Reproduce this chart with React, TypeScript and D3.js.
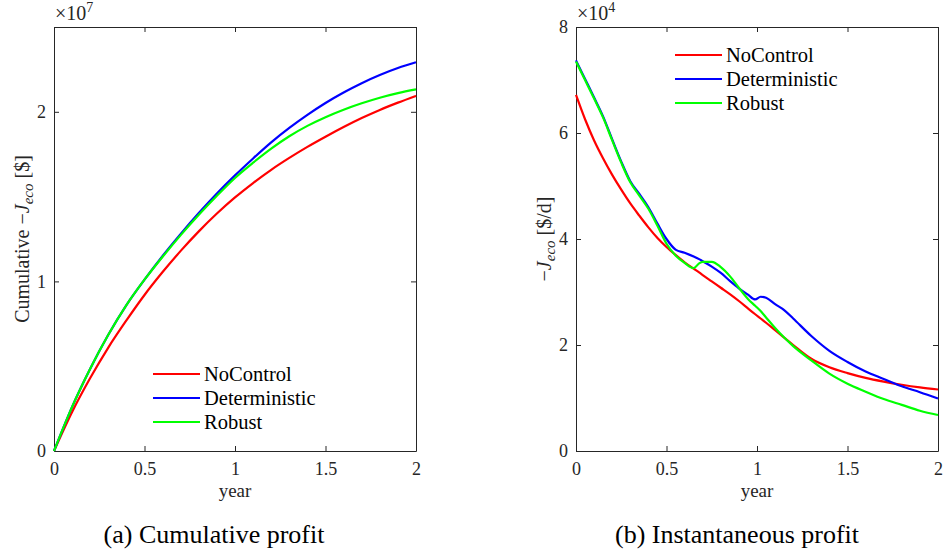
import React, { useEffect, useRef } from 'react';
import * as d3 from 'd3';

// sample times [year], cumulative panel
const cumYears = [0, 0.1, 0.2, 0.3, 0.4, 0.5, 0.6, 0.7, 0.8, 0.9, 1.0, 1.1, 1.2, 1.3, 1.4, 1.5, 1.6, 1.7, 1.8, 1.9, 2.0];
// cumulative -J_eco, x1e7 $
const cumNoControl = [0, 0.23, 0.43, 0.61, 0.77, 0.92, 1.055, 1.18, 1.295, 1.4, 1.495, 1.58, 1.658, 1.728, 1.793, 1.853, 1.91, 1.963, 2.011, 2.054, 2.094];
const cumDeterministic = [0, 0.26, 0.485, 0.685, 0.86, 1.01, 1.15, 1.28, 1.403, 1.518, 1.625, 1.725, 1.82, 1.905, 1.982, 2.052, 2.114, 2.169, 2.217, 2.258, 2.292];
const cumRobust = [0, 0.26, 0.485, 0.685, 0.86, 1.01, 1.145, 1.273, 1.393, 1.505, 1.61, 1.7, 1.783, 1.856, 1.917, 1.968, 2.012, 2.05, 2.083, 2.11, 2.132];

// sample times [year], instantaneous panel
const instYears = [0, 0.05, 0.1, 0.15, 0.2, 0.25, 0.3, 0.35, 0.4, 0.45, 0.5, 0.55, 0.6, 0.65, 0.68, 0.7, 0.75, 0.8, 0.85, 0.9, 0.95, 0.99, 1.02, 1.05, 1.1, 1.15, 1.2, 1.3, 1.4, 1.5, 1.6, 1.7, 1.8, 1.9, 2.0];
// -J_eco, x1e4 $/d
const instNoControl = [6.72, 6.26, 5.86, 5.52, 5.21, 4.93, 4.67, 4.44, 4.22, 4.02, 3.85, 3.7, 3.56, 3.44, 3.37, 3.32, 3.2, 3.08, 2.96, 2.83, 2.69, 2.58, 2.5, 2.42, 2.28, 2.14, 2.0, 1.74, 1.58, 1.47, 1.38, 1.31, 1.25, 1.2, 1.16];
const instDeterministic = [7.37, 7.02, 6.67, 6.31, 5.88, 5.46, 5.09, 4.85, 4.6, 4.29, 4.0, 3.8, 3.74, 3.67, 3.62, 3.58, 3.48, 3.36, 3.21, 3.07, 2.95, 2.86, 2.91, 2.89, 2.77, 2.66, 2.5, 2.17, 1.89, 1.68, 1.5, 1.36, 1.22, 1.11, 0.99];
const instRobust = [7.35, 7.0, 6.65, 6.29, 5.86, 5.44, 5.07, 4.82, 4.57, 4.25, 3.91, 3.69, 3.55, 3.45, 3.54, 3.57, 3.57, 3.47, 3.3, 3.08, 2.87, 2.74, 2.64, 2.52, 2.32, 2.14, 1.98, 1.71, 1.46, 1.27, 1.12, 0.98, 0.87, 0.76, 0.68];

const seriesNames = ['NoControl', 'Deterministic', 'Robust'];
const seriesColors = ['#ff0000', '#0000ff', '#00ff00'];
const yearTicks = [0, 0.5, 1, 1.5, 2];
const cumTicks = [0, 1, 2];
const instTicks = [0, 2, 4, 6, 8];

const FONT = '"Liberation Serif", "Times New Roman", serif';
const AXIS = '#262626';

function drawPanel(svg, p) {
  const x = d3.scaleLinear().domain([0, 2]).range([p.left, p.right]);
  const y = d3.scaleLinear().domain([0, p.yMax]).range([p.bottom, p.top]);
  const g = svg.append('g');

  const style = (sel) => {
    sel.attr('font-family', FONT).attr('font-size', 18);
    sel.selectAll('path, line').attr('stroke', AXIS).attr('stroke-width', 1);
    sel.selectAll('text').attr('fill', AXIS);
  };

  g.append('g')
    .attr('transform', `translate(0, ${p.bottom})`)
    .call(d3.axisBottom(x).tickValues(yearTicks).tickSizeInner(-5).tickSizeOuter(0).tickPadding(11).tickFormat(d3.format('')))
    .call(style);
  g.append('g')
    .attr('transform', `translate(0, ${p.top})`)
    .call(d3.axisTop(x).tickValues(yearTicks).tickSizeInner(-5).tickSizeOuter(0).tickFormat(''))
    .call(style);
  g.append('g')
    .attr('transform', `translate(${p.left}, 0)`)
    .call(d3.axisLeft(y).tickValues(p.yTicks).tickSizeInner(-5).tickSizeOuter(0).tickPadding(8).tickFormat(d3.format('')))
    .call(style);
  g.append('g')
    .attr('transform', `translate(${p.right}, 0)`)
    .call(d3.axisRight(y).tickValues(p.yTicks).tickSizeInner(-5).tickSizeOuter(0).tickFormat(''))
    .call(style);

  const line = d3.line()
    .x((d) => x(d[0]))
    .y((d) => y(d[1]))
    .curve(d3.curveMonotoneX);

  p.series.forEach((vals, i) => {
    g.append('path')
      .datum(p.years.map((t, j) => [t, vals[j]]))
      .attr('fill', 'none')
      .attr('stroke', seriesColors[i])
      .attr('stroke-width', 2.2)
      .attr('stroke-linejoin', 'round')
      .attr('d', line);
  });

  // exponent
  const ex = g.append('text')
    .attr('x', p.left + 1)
    .attr('y', 20)
    .attr('font-family', FONT)
    .attr('font-size', 20)
    .attr('fill', AXIS);
  ex.append('tspan').text('×10');
  ex.append('tspan').attr('font-size', 14).attr('dy', -8).text(p.exponent);

  // legend
  const lg = g.append('g');
  seriesNames.forEach((name, i) => {
    const ly = p.legendY + i * 24;
    lg.append('line')
      .attr('x1', p.legendX).attr('x2', p.legendX + 47)
      .attr('y1', ly).attr('y2', ly)
      .attr('stroke', seriesColors[i])
      .attr('stroke-width', 2.2);
    lg.append('text')
      .attr('x', p.legendX + 51)
      .attr('y', ly + 6.5)
      .attr('font-family', FONT)
      .attr('font-size', 20.5)
      .attr('fill', '#000')
      .text(name);
  });

  // x label
  g.append('text')
    .attr('x', (p.left + p.right) / 2)
    .attr('y', 497)
    .attr('text-anchor', 'middle')
    .attr('font-family', FONT)
    .attr('font-size', 19)
    .attr('fill', AXIS)
    .text('year');

  // y label
  const yl = g.append('text')
    .attr('transform', `translate(${p.left - 25}, ${(p.top + p.bottom) / 2}) rotate(-90)`)
    .attr('text-anchor', 'middle')
    .attr('font-family', FONT)
    .attr('font-size', 20)
    .attr('fill', AXIS);
  yl.append('tspan').text(p.yPrefix + '−');
  yl.append('tspan').attr('font-style', 'italic').text('J');
  yl.append('tspan').attr('font-style', 'italic').attr('font-size', 15).attr('dy', 4).text('eco');
  yl.append('tspan').attr('dy', -4).text(' ' + p.yUnit);

  // caption
  g.append('text')
    .attr('x', p.captionX)
    .attr('y', 543)
    .attr('text-anchor', 'middle')
    .attr('font-family', FONT)
    .attr('font-size', 26)
    .attr('fill', '#000')
    .text(p.caption);
}

export default function App() {
  const ref = useRef(null);

  useEffect(() => {
    const svg = d3.select(ref.current);
    svg.selectAll('*').remove();

    drawPanel(svg, {
      left: 54, right: 416, top: 27, bottom: 451,
      yMax: 2.5, yTicks: cumTicks, exponent: '7',
      years: cumYears,
      series: [cumNoControl, cumDeterministic, cumRobust],
      legendX: 153, legendY: 374,
      yPrefix: 'Cumulative ', yUnit: '[$]',
      caption: '(a) Cumulative profit', captionX: 214,
    });

    drawPanel(svg, {
      left: 576, right: 938, top: 27, bottom: 451,
      yMax: 8, yTicks: instTicks, exponent: '4',
      years: instYears,
      series: [instNoControl, instDeterministic, instRobust],
      legendX: 675, legendY: 55,
      yPrefix: '', yUnit: '[$/d]',
      caption: '(b) Instantaneous profit', captionX: 737,
    });
  }, []);

  return (
    <div style={{ position: 'absolute', left: 0, top: 0 }}>
      <svg ref={ref} width={943} height={557} style={{ display: 'block', background: '#fff' }} />
    </div>
  );
}
